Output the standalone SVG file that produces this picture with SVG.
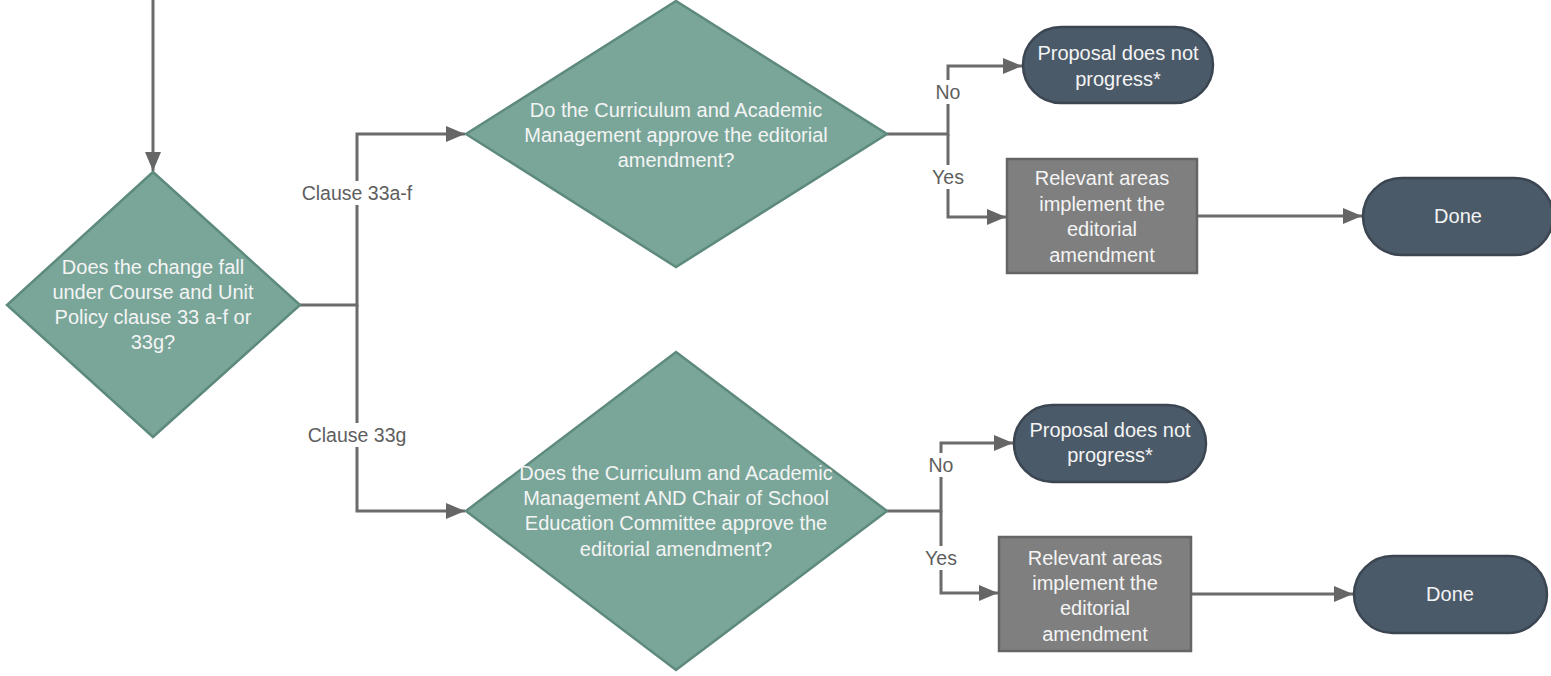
<svg xmlns="http://www.w3.org/2000/svg" width="1551" height="676" viewBox="0 0 1551 676">
<style>
.dec{fill:#79a699;stroke:#5e8a7e;stroke-width:2.5}
.term{fill:#4b5a69;stroke:#3b4652;stroke-width:2.5}
.proc{fill:#7f7f7f;stroke:#656565;stroke-width:2.5}
.nt{font-family:"Liberation Sans",Arial,sans-serif;font-size:20px;fill:#f4f4f4;text-anchor:middle;dominant-baseline:central}
.lt{font-family:"Liberation Sans",Arial,sans-serif;font-size:19.5px;fill:#5e5e5e;text-anchor:middle;dominant-baseline:central}
.cn{fill:none;stroke:#6b6b6b;stroke-width:3}
.lbg{fill:#ffffff}
</style>
<defs>
<marker id="ah" markerUnits="userSpaceOnUse" markerWidth="22" markerHeight="18" refX="19" refY="8" orient="auto">
<path d="M0,0 L19,8 L0,16 z" fill="#666666"/>
</marker>
</defs>
<rect width="1551" height="676" fill="#ffffff"/>
<g id="connectors">
<path class="cn" d="M153,0 V171" marker-end="url(#ah)"/>
<path class="cn" d="M300,305 H357 V134 H465" marker-end="url(#ah)"/>
<path class="cn" d="M357,305 V511 H465" marker-end="url(#ah)"/>
<path class="cn" d="M887,134 H948 V66 H1022" marker-end="url(#ah)"/>
<path class="cn" d="M948,134 V217 H1006" marker-end="url(#ah)"/>
<path class="cn" d="M1197,216 H1362" marker-end="url(#ah)"/>
<path class="cn" d="M887,511 H941 V443 H1013" marker-end="url(#ah)"/>
<path class="cn" d="M941,511 V593 H998" marker-end="url(#ah)"/>
<path class="cn" d="M1191,594 H1353" marker-end="url(#ah)"/>
<rect class="lbg" x="298" y="181" width="118" height="24"/>
<text class="lt" x="357" y="193">Clause 33a-f</text>
<rect class="lbg" x="303" y="423" width="108" height="24"/>
<text class="lt" x="357" y="435">Clause 33g</text>
<rect class="lbg" x="934" y="80" width="28" height="24"/>
<text class="lt" x="948" y="92">No</text>
<rect class="lbg" x="930" y="165" width="36" height="24"/>
<text class="lt" x="948" y="177">Yes</text>
<rect class="lbg" x="927" y="453" width="28" height="24"/>
<text class="lt" x="941" y="465">No</text>
<rect class="lbg" x="923" y="546" width="36" height="24"/>
<text class="lt" x="941" y="558">Yes</text>
</g>
<g id="decision-main">
<polygon class="dec" points="153,172 300,305 153,437 7,305"/>
<text class="nt" x="153" y="267">Does the change fall</text>
<text class="nt" x="153" y="292">under Course and Unit</text>
<text class="nt" x="153" y="317">Policy clause 33 a-f or</text>
<text class="nt" x="153" y="342">33g?</text>
</g>
<g id="decision-top">
<polygon class="dec" points="676,1 887,134 676,267 466,134"/>
<text class="nt" x="676" y="110">Do the Curriculum and Academic</text>
<text class="nt" x="676" y="135">Management approve the editorial</text>
<text class="nt" x="676" y="160">amendment?</text>
</g>
<g id="decision-bottom">
<polygon class="dec" points="676,352 887,511 676,670 466,511"/>
<text class="nt" x="676" y="473">Does the Curriculum and Academic</text>
<text class="nt" x="676" y="498">Management AND Chair of School</text>
<text class="nt" x="676" y="523">Education Committee approve the</text>
<text class="nt" x="676" y="549">editorial amendment?</text>
</g>
<g id="reject-top">
<rect class="term" x="1023" y="27" width="190" height="76" rx="38"/>
<text class="nt" x="1118" y="53">Proposal does not</text>
<text class="nt" x="1118" y="79">progress*</text>
</g>
<g id="implement-top">
<rect class="proc" x="1007" y="159" width="190" height="114"/>
<text class="nt" x="1102" y="178">Relevant areas</text>
<text class="nt" x="1102" y="204">implement the</text>
<text class="nt" x="1102" y="229">editorial</text>
<text class="nt" x="1102" y="255">amendment</text>
</g>
<g id="done-top">
<rect class="term" x="1363" y="178" width="190" height="77" rx="38.5"/>
<text class="nt" x="1458" y="216">Done</text>
</g>
<g id="reject-bottom">
<rect class="term" x="1014" y="405" width="192" height="77" rx="38.5"/>
<text class="nt" x="1110" y="430">Proposal does not</text>
<text class="nt" x="1110" y="455">progress*</text>
</g>
<g id="implement-bottom">
<rect class="proc" x="999" y="537" width="192" height="114"/>
<text class="nt" x="1095" y="558">Relevant areas</text>
<text class="nt" x="1095" y="583">implement the</text>
<text class="nt" x="1095" y="608">editorial</text>
<text class="nt" x="1095" y="634">amendment</text>
</g>
<g id="done-bottom">
<rect class="term" x="1354" y="556" width="193" height="77" rx="38.5"/>
<text class="nt" x="1450" y="594">Done</text>
</g>
</svg>
